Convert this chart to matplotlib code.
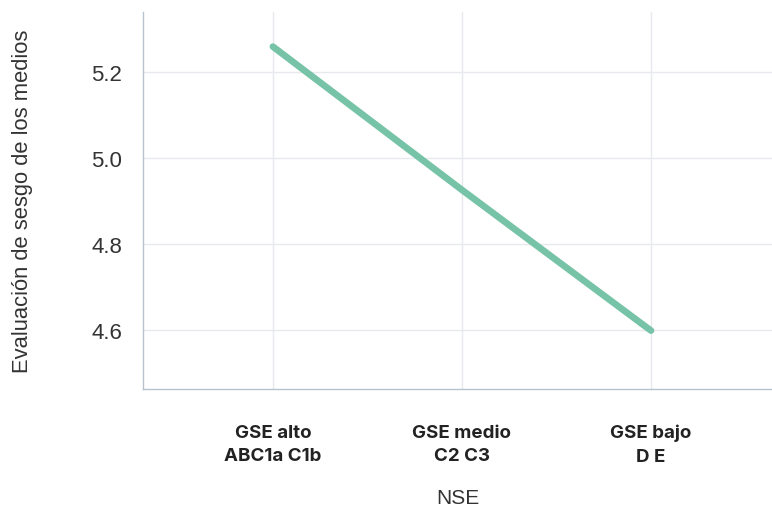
import matplotlib.pyplot as plt

categorias = ["GSE alto\nABC1a C1b", "GSE medio\nC2 C3", "GSE bajo\nD E"]
valores = [5.258, 4.925, 4.598]
yticks = [4.6, 4.8, 5.0, 5.2]

plt.rcParams['font.family'] = ['Liberation Sans', 'DejaVu Sans']

fig = plt.figure(figsize=(7.72, 5.10), dpi=100)
ax = fig.add_axes([0.185, 0.235, 0.815, 0.74])

x = list(range(len(categorias)))
ax.plot(x, valores, color="#76c3a8", linewidth=4.8, solid_capstyle="round", zorder=3)

ax.set_xlim(-0.688, 2.64)
ax.set_ylim(4.462, 5.339)
ax.set_xticks(x)
ax.set_xticklabels(categorias, fontsize=13.5, fontweight="bold", color="#222222",
                   family=["Inter", "DejaVu Sans"], linespacing=1.5)
ax.set_yticks(yticks)
ax.set_yticklabels([f"{v:.1f}" for v in yticks], fontsize=16, color="#333333")
ax.tick_params(length=0)
ax.tick_params(axis="x", pad=25)
ax.tick_params(axis="y", pad=15)

ax.grid(True, color="#e6e9ed", linewidth=1)
ax.set_axisbelow(True)
for s in ["top", "right"]:
    ax.spines[s].set_visible(False)
for s in ["left", "bottom"]:
    ax.spines[s].set_color("#b8c2cc")
    ax.spines[s].set_linewidth(1)

ax.set_xlabel("NSE", fontsize=15, color="#333333", labelpad=17)
ax.set_ylabel("Evaluación de sesgo de los medios", fontsize=15.8, color="#333333", labelpad=42)

fig.savefig("out.png", dpi=100)
